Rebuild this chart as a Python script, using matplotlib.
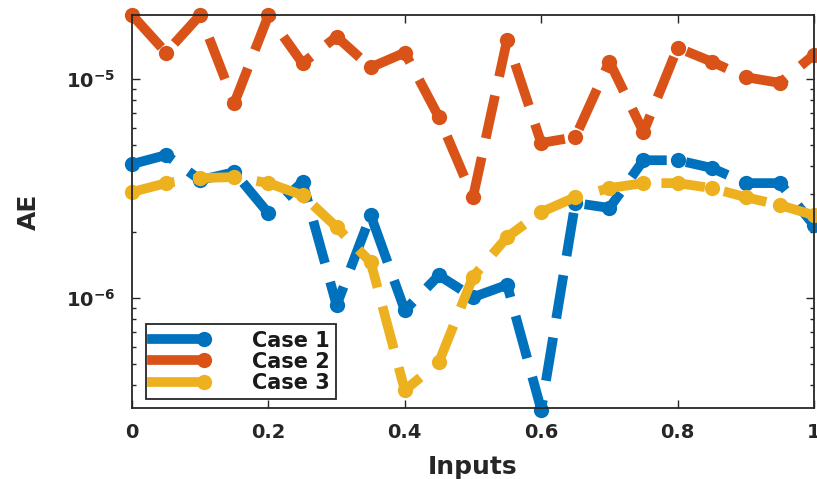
import matplotlib
matplotlib.use("Agg")
import matplotlib.pyplot as plt
from matplotlib.lines import Line2D

plt.rcParams['font.family'] = ['DejaVu Sans']
plt.rcParams['font.weight'] = 'bold'
plt.rcParams['mathtext.fontset'] = 'dejavusans'
plt.rcParams['mathtext.default'] = 'bf'

inputs = [0.0, 0.05, 0.10, 0.15, 0.20, 0.25, 0.30, 0.35, 0.40, 0.45, 0.50,
          0.55, 0.60, 0.65, 0.70, 0.75, 0.80, 0.85, 0.90, 0.95, 1.0]

case1 = [4.09e-6, 4.50e-6, 3.46e-6, 3.76e-6, 2.44e-6, 3.39e-6, 9.29e-7,
         2.39e-6, 8.80e-7, 1.27e-6, 1.01e-6, 1.15e-6, 3.10e-7, 2.72e-6,
         2.58e-6, 4.26e-6, 4.26e-6, 3.93e-6, 3.35e-6, 3.35e-6, 2.15e-6]
case2 = [1.96e-5, 1.32e-5, 1.96e-5, 7.77e-6, 1.95e-5, 1.18e-5, 1.56e-5,
         1.13e-5, 1.32e-5, 6.70e-6, 2.89e-6, 1.51e-5, 5.11e-6, 5.43e-6,
         1.20e-5, 5.73e-6, 1.39e-5, 1.20e-5, 1.02e-5, 9.60e-6, 1.29e-5]
case3 = [3.05e-6, 3.35e-6, 3.53e-6, 3.57e-6, 3.35e-6, 2.95e-6, 2.11e-6,
         1.46e-6, 3.80e-7, 5.11e-7, 1.25e-6, 1.90e-6, 2.47e-6, 2.89e-6,
         3.18e-6, 3.35e-6, 3.35e-6, 3.18e-6, 2.89e-6, 2.66e-6, 2.39e-6]

series_names = ['Case 1', 'Case 2', 'Case 3']
colors = ['#0072BD', '#D95319', '#EDB120']
xtick_vals = [0, 0.2, 0.4, 0.6, 0.8, 1.0]
xtick_labels = ['0', '0.2', '0.4', '0.6', '0.8', '1']
ytick_vals = [1e-6, 1e-5]
ytick_labels = [r'$\mathbf{10^{-6}}$', r'$\mathbf{10^{-5}}$']

ink = '#262626'

fig = plt.figure(figsize=(8.17, 4.79), dpi=100)
ax = fig.add_axes([0.1616, 0.148, 0.8347, 0.8207])

for ys, c in zip([case1, case2, case3], colors):
    ax.plot(inputs, ys, color=c, lw=7, ls=(0, (4.5, 2)), marker='o',
            markersize=11, markeredgewidth=0, clip_on=False,
            dash_capstyle='butt')

ax.set_yscale('log')
ax.set_xlim(0, 1)
ax.set_ylim(3.15e-7, 1.96e-5)
ax.set_xticks(xtick_vals)
ax.set_xticklabels(xtick_labels)
ax.set_yticks(ytick_vals)
ax.set_yticklabels(ytick_labels)

ax.tick_params(which='both', direction='in', top=True, right=True,
               colors=ink, labelsize=14, width=1)
ax.tick_params(which='major', length=6)
ax.tick_params(which='minor', length=3)
ax.tick_params(axis='x', pad=11)
ax.tick_params(axis='y', pad=12)
for lab in ax.get_xticklabels() + ax.get_yticklabels():
    lab.set_fontweight('bold')
    lab.set_color(ink)
for sp in ax.spines.values():
    sp.set_color(ink)
    sp.set_linewidth(1.3)

ax.set_xlabel('Inputs', fontsize=18, fontweight='bold', color=ink, labelpad=9)
ax.set_ylabel('AE', fontsize=18, fontweight='bold', color=ink, labelpad=18)

handles = [Line2D([], [], color=c, lw=7, marker='o', markersize=11,
                  markeredgewidth=0) for c in colors]
leg = ax.legend(handles, series_names, loc='lower left',
                bbox_to_anchor=(0.0205, 0.023), borderaxespad=0,
                handlelength=2.5, handletextpad=2.3, borderpad=0.3,
                labelspacing=0.05, fancybox=False, framealpha=1,
                edgecolor=ink, prop={'weight': 'bold', 'size': 15})
leg.get_frame().set_linewidth(1.3)
for h in leg.legend_handles:
    h.set_markevery([2])
for t in leg.get_texts():
    t.set_color('#1a1a1a')

fig.savefig('out.png', dpi=100)
